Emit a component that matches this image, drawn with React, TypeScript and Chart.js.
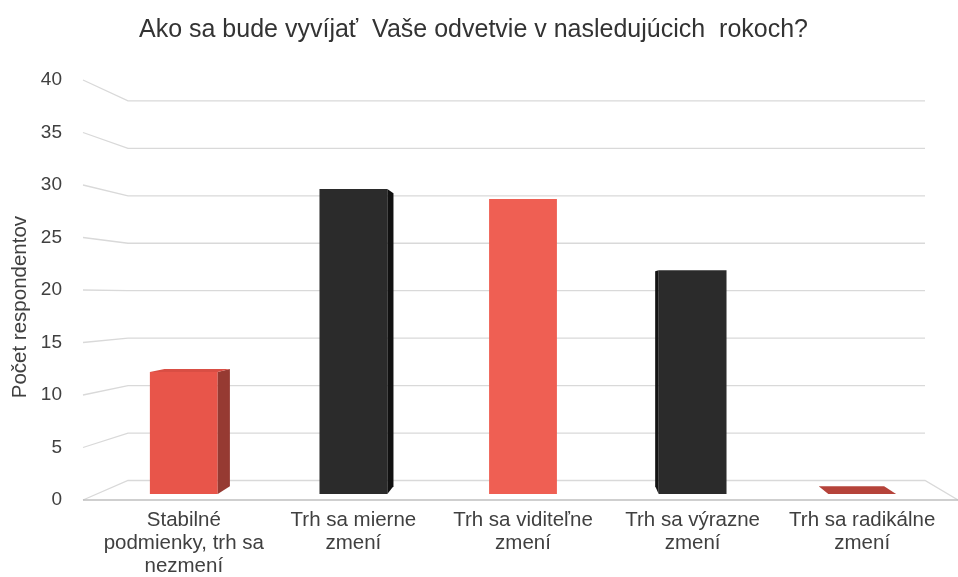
import { useEffect, useRef } from "react";
import { Chart, registerables } from "chart.js";

Chart.register(...registerables);

const titleText = "Ako sa bude vyvíjať  Vaše odvetvie v nasledujúcich  rokoch?";
const yAxisTitle = "Počet respondentov      ";
const categories: string[][] = [
  ["Stabilné", "podmienky, trh sa", "nezmení"],
  ["Trh sa mierne", "zmení"],
  ["Trh sa viditeľne", "zmení"],
  ["Trh sa výrazne", "zmení"],
  ["Trh sa radikálne", "zmení"],
];
const respondents = [12, 30, 29, 22, 0];
const yMin = 0;
const yMax = 40;
const yStep = 5;

const frontColors = ["#E8554A", "#2B2B2B", "#EF5F53", "#2B2B2B", "#E8554A"];
const sideColors = ["#963A32", "#111111", "#A8443B", "#141414", "#A8403A"];
const topColors = ["#D94E44", "#353535", "#E25A4F", "#353535", "#B5433A"];

const FONT = "'Liberation Sans', Arial, sans-serif";

const depthPlugin = {
  id: "depth3d",
  beforeDatasetsDraw(chart: any) {
    const { ctx, chartArea: a, scales } = chart;
    const y = scales.y;
    const yb = scales.yBack;
    const fl = a.left - 16;
    const bl = a.left + 29;
    const br = a.right - 22;
    const fr = a.right + 11;
    ctx.save();
    ctx.lineWidth = 1.3;
    y.ticks.forEach((t: any) => {
      const fy = y.getPixelForValue(t.value);
      const by = yb.getPixelForValue(t.value);
      ctx.strokeStyle = "#D9D9D9";
      ctx.beginPath();
      ctx.moveTo(fl, fy);
      ctx.lineTo(bl, by);
      ctx.lineTo(br, by);
      if (t.value === 0) ctx.lineTo(fr, fy);
      ctx.stroke();
      if (t.value === 0) {
        ctx.strokeStyle = "#BFBFBF";
        ctx.beginPath();
        ctx.moveTo(fl, fy);
        ctx.lineTo(fr, fy);
        ctx.stroke();
      }
    });
    ctx.restore();
  },
  afterDatasetsDraw(chart: any) {
    const { ctx, chartArea: a, scales } = chart;
    const y = scales.y;
    const yb = scales.yBack;
    const vx = a.left + 461;
    const k = 0.0356;
    const meta = chart.getDatasetMeta(0);
    ctx.save();
    meta.data.forEach((bar: any, i: number) => {
      const p = bar.getProps(["x", "y", "base", "width"], true);
      const v = respondents[i];
      const left = p.x - p.width / 2;
      const right = p.x + p.width / 2;
      const top = p.y;
      const base = p.base;
      const dyTop = 0.4 * (y.getPixelForValue(v) - yb.getPixelForValue(v));
      const dyBase = 0.4 * (y.getPixelForValue(0) - yb.getPixelForValue(0));
      const dxL = k * (vx - left);
      const dxR = k * (vx - right);
      let edge = 0;
      let dx = 0;
      if (dxR > 0.5) {
        edge = right;
        dx = dxR;
      } else if (dxL < -0.5) {
        edge = left;
        dx = dxL;
      }
      if (dx !== 0 && base - top > 0.5) {
        ctx.fillStyle = sideColors[i];
        ctx.beginPath();
        ctx.moveTo(edge, top);
        ctx.lineTo(edge, base);
        ctx.lineTo(edge + dx, base - dyBase);
        ctx.lineTo(edge + dx, top - dyTop);
        ctx.closePath();
        ctx.fill();
      }
      if (dyTop > 0.5) {
        ctx.fillStyle = topColors[i];
        ctx.beginPath();
        ctx.moveTo(left, top);
        ctx.lineTo(right, top);
        ctx.lineTo(right + dxR, top - dyTop);
        ctx.lineTo(left + dxL, top - dyTop);
        ctx.closePath();
        ctx.fill();
      }
    });
    ctx.restore();
  },
};

export default function App() {
  const ref = useRef<HTMLCanvasElement | null>(null);
  useEffect(() => {
    document.body.style.margin = "0";
    const canvas = ref.current;
    if (!canvas) return;
    const chart = new Chart(canvas, {
      type: "bar",
      data: {
        labels: categories,
        datasets: [
          {
            data: respondents,
            backgroundColor: frontColors,
            borderWidth: 0,
            barPercentage: 0.4,
            categoryPercentage: 1.0,
            yAxisID: "yBar",
          },
        ],
      },
      options: {
        responsive: false,
        animation: false,
        layout: { padding: { left: 0, right: 11, top: 0, bottom: 0 } },
        plugins: {
          legend: { display: false },
          tooltip: { enabled: false },
          title: {
            display: true,
            text: titleText,
            color: "#333333",
            font: { family: FONT, size: 25, weight: "normal", lineHeight: 1.2 },
            padding: { top: 15, bottom: 35 },
          },
        },
        scales: {
          x: {
            type: "category",
            grid: { display: false, drawTicks: false },
            border: { display: false },
            ticks: {
              color: "#404040",
              font: { family: FONT, size: 20.5, lineHeight: 1.12 },
              padding: 9,
              maxRotation: 0,
              autoSkip: false,
            },
            afterFit: (s: any) => {
              s.height = 77;
            },
          },
          y: {
            type: "linear",
            position: "left",
            min: yMin,
            max: yMax,
            grid: { display: false, drawTicks: false },
            border: { display: false },
            ticks: {
              stepSize: yStep,
              color: "#404040",
              font: { family: FONT, size: 19 },
              padding: 37,
            },
            title: {
              display: true,
              text: yAxisTitle,
              color: "#404040",
              font: { family: FONT, size: 20.5, lineHeight: 1.2 },
              padding: { top: 8, bottom: 0 },
            },
            afterFit: (s: any) => {
              s.width = 99;
            },
          },
          yBar: {
            type: "linear",
            display: false,
            min: -0.59,
            max: 40.71,
          },
          yBack: {
            type: "linear",
            display: false,
            min: -2.055,
            max: 42.2,
          },
        },
      } as any,
      plugins: [depthPlugin],
    });
    return () => chart.destroy();
  }, []);
  return <canvas ref={ref} width={958} height={577} style={{ display: "block" }} />;
}
